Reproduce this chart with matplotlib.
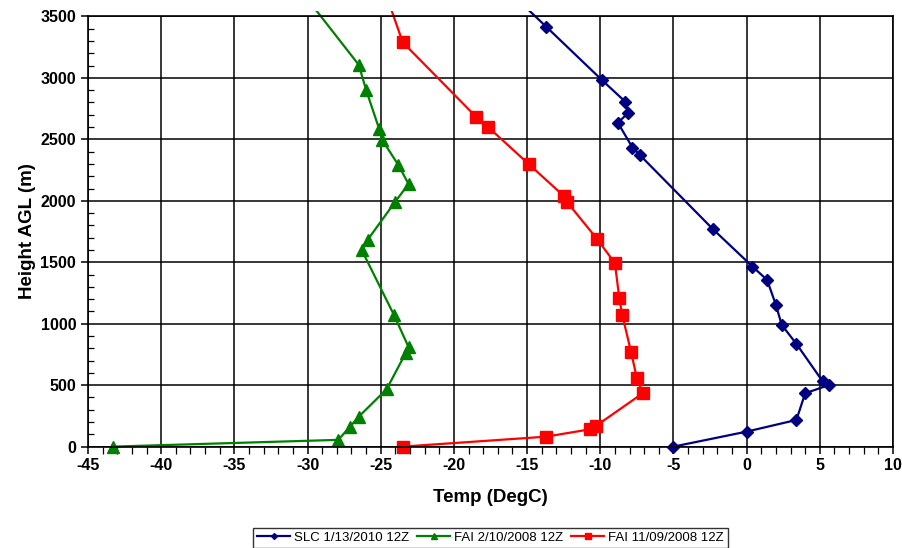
import numpy as np
import matplotlib
matplotlib.use("Agg")
import matplotlib.pyplot as plt
from matplotlib.ticker import MultipleLocator
from matplotlib.patches import Rectangle

# soundings: temperature (DegC) vs height AGL (m)
slc_t = [-5.0, 0.0, 3.4, 4.0, 5.6, 5.2, 3.4, 2.4, 2.0, 1.4, 0.4, -2.3, -7.3, -7.8, -8.8, -8.1, -8.3, -9.9, -13.7, -16.2]
slc_h = [0, 122, 217, 434, 500, 530, 836, 990, 1153, 1356, 1465, 1769, 2373, 2433, 2636, 2713, 2807, 2984, 3417, 3700]

fai_feb_t = [-43.3, -27.9, -27.1, -26.5, -24.6, -23.3, -23.1, -24.1, -26.3, -25.9, -24.0, -23.1, -23.8, -24.9, -25.1, -26.0, -26.5, -30.2]
fai_feb_h = [0, 55, 163, 244, 467, 760, 810, 1072, 1600, 1682, 1994, 2137, 2292, 2495, 2582, 2902, 3106, 3670]

fai_nov_t = [-23.5, -13.7, -10.7, -10.3, -7.1, -7.5, -7.9, -8.5, -8.7, -9.0, -10.2, -12.3, -12.5, -14.9, -17.7, -18.5, -23.5, -24.7]
fai_nov_h = [0, 81, 141, 168, 434, 556, 773, 1072, 1207, 1492, 1687, 1994, 2040, 2300, 2604, 2685, 3290, 3700]

labels = ["SLC 1/13/2010 12Z", "FAI 2/10/2008 12Z", "FAI 11/09/2008 12Z"]

plt.rcParams['font.family'] = ['Liberation Sans', 'DejaVu Sans']
plt.rcParams['axes.unicode_minus'] = False
fig = plt.figure(figsize=(9.02, 5.48), dpi=100)
ax = fig.add_axes([0.0976, 0.185, 0.8924, 0.785])

# excel-style clipping: lines run slightly past the top of the plot area
clip = Rectangle((-0.03, -0.06), 1.06, 1.073, transform=ax.transAxes, visible=False)
ax.add_patch(clip)

styles = [('#000080', 'D', 6), ('#008000', '^', 8), ('#ff0000', 's', 8)]
for (t, h), (c, m, ms), lab in zip([(slc_t, slc_h), (fai_feb_t, fai_feb_h), (fai_nov_t, fai_nov_h)], styles, labels):
    ln, = ax.plot(t, h, color=c, marker=m, ms=ms, lw=1.6, label=lab)
    ln.set_clip_path(clip)

ax.set_xlim(-45, 10)
ax.set_ylim(0, 3500)
ax.xaxis.set_major_locator(MultipleLocator(5))
ax.xaxis.set_minor_locator(MultipleLocator(1))
ax.yaxis.set_major_locator(MultipleLocator(500))
ax.yaxis.set_minor_locator(MultipleLocator(100))
ax.grid(True, which='major', color='black', lw=1.1)
ax.set_axisbelow(True)
for s in ax.spines.values():
    s.set_linewidth(1.2)
ax.tick_params(which='major', length=5, width=1.1, direction='out')
ax.tick_params(axis='x', which='minor', length=5, width=0.9, direction='out')
ax.tick_params(axis='y', which='minor', length=4, width=0.9, direction='in')
for lab in ax.get_xticklabels() + ax.get_yticklabels():
    lab.set_fontweight('bold')
    lab.set_fontsize(11.5)

ax.set_xlabel('Temp (DegC)', fontsize=13.5, fontweight='bold', labelpad=11)
ax.set_ylabel('Height AGL (m)', fontsize=13.5, fontweight='bold', labelpad=3)

leg = fig.legend(loc='upper center', bbox_to_anchor=(0.544, 0.037), ncol=3, fontsize=9.5,
                 frameon=True, fancybox=False, edgecolor='black', markerscale=0.5,
                 handlelength=2.5, columnspacing=0.6, handletextpad=0.3, borderpad=0.3,
                 borderaxespad=0)
leg.get_frame().set_linewidth(1.0)

fig.savefig('out.png', dpi=100)
